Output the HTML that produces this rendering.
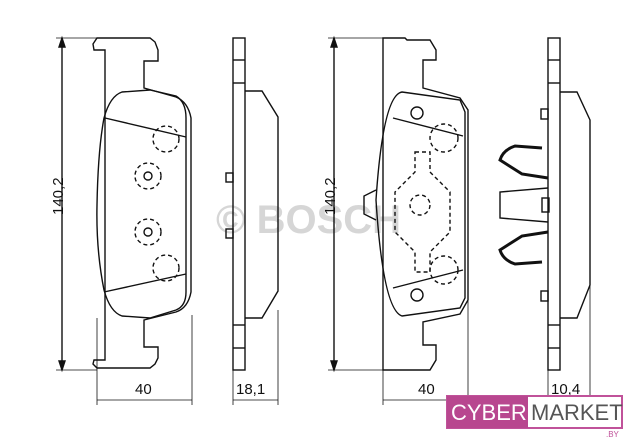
<!DOCTYPE html>
<html><head><meta charset="utf-8"><style>
body{margin:0;background:#fff;width:640px;height:440px;overflow:hidden;font-family:"Liberation Sans",sans-serif}
</style></head><body>
<svg width="640" height="440" viewBox="0 0 640 440" xmlns="http://www.w3.org/2000/svg">
<text x="216" y="233" font-size="40" font-weight="bold" fill="#d6d6d6">© BOSCH</text>
<g fill="none" stroke="#111" stroke-width="1.4">
<!-- left dimension -->
<line x1="62" y1="38" x2="62" y2="370"/><line x1="56" y1="38" x2="97" y2="38" stroke-width="0.8"/><line x1="56" y1="370" x2="97" y2="370" stroke-width="0.8"/>
<path d="M62 38 l-3 9 h6z M62 370 l-3 -9 h6z" fill="#111"/>
<!-- left pad backplate -->
<path d="M105 360 V50 H94 L93 44 L97 38 H150 L155 42 L158 50 V61 H144 V88 L176 97 Q188 102 191 118 V292 Q188 308 176 312 L144 320 V347 H158 V358 L155 364 L150 368 H97 L93 364 L94 360 Z"/>
<!-- friction -->
<path d="M122 92 L150 90 L176 96 Q186 102 186 118 V292 Q186 306 176 310 L150 318 L122 316 Q110 312 104 290 Q96 250 97 205 Q98 150 104 118 Q110 96 122 92 Z"/>
<line x1="105" y1="118" x2="186" y2="137"/><line x1="104" y1="292" x2="186" y2="274"/>
<g stroke-dasharray="4,3"><circle cx="166" cy="139" r="13"/><circle cx="166" cy="268" r="13"/><circle cx="148" cy="176" r="13"/><circle cx="148" cy="232" r="13"/></g>
<circle cx="148" cy="176" r="4"/><circle cx="148" cy="232" r="4"/>
<line x1="97" y1="318" x2="97" y2="405" stroke-width="0.8"/>
<!-- side view 1 -->
<rect x="233" y="38" width="12" height="332"/>
<line x1="233" y1="60" x2="245" y2="60"/><line x1="233" y1="83" x2="245" y2="83"/><line x1="233" y1="325" x2="245" y2="325"/><line x1="233" y1="348" x2="245" y2="348"/>
<path d="M245 91 H262 L278 117 V291 L262 318 H245"/>
<rect x="226" y="173" width="7" height="9"/><rect x="226" y="229" width="7" height="9"/>
<!-- right dimension -->
<line x1="334" y1="38" x2="334" y2="370"/><line x1="328" y1="38" x2="385" y2="38" stroke-width="0.8"/><line x1="328" y1="370" x2="385" y2="370" stroke-width="0.8"/>
<path d="M334 38 l-3 9 h6z M334 370 l-3 -9 h6z" fill="#111"/>
<!-- right pad backplate -->
<path d="M383 370 V38 H405 L407 40 H430 L436 50 V60 H423 V88 L460 98 L468 110 V300 L460 314 L423 322 V345 H436 V360 L430 370 Z"/>
<path d="M402 92 L460 100 L465 112 V298 L460 308 L402 316 Q383 310 376 200 Q383 95 402 92 Z"/>
<line x1="393" y1="118" x2="463" y2="136"/><line x1="393" y1="288" x2="463" y2="270"/>
<circle cx="417" cy="113" r="6"/><circle cx="417" cy="295" r="6"/>
<g stroke-dasharray="4,3"><circle cx="444" cy="138" r="14"/><circle cx="444" cy="270" r="14"/>
<path d="M415 152 h15 v20 l20 20 v40 l-20 20 v20 h-15 v-20 l-20 -20 v-40 l20 -20 z"/>
<circle cx="420" cy="205" r="10"/></g>
<path d="M376 190 L364 196 V214 L376 220"/>
<!-- side view 2 -->
<rect x="548" y="38" width="12" height="332"/>
<line x1="548" y1="60" x2="560" y2="60"/><line x1="548" y1="83" x2="560" y2="83"/><line x1="548" y1="325" x2="560" y2="325"/><line x1="548" y1="348" x2="560" y2="348"/>
<path d="M560 92 H577 L590 120 V285 L577 318 H560"/>
<rect x="541" y="109" width="7" height="10"/><rect x="541" y="291" width="7" height="10"/>
<!-- clip -->
<path d="M542 148 L515 146 Q503 150 500 160 L522 174 L548 178" stroke-width="3"/>
<path d="M542 262 L515 264 Q503 260 500 250 L522 236 L548 232" stroke-width="3"/>
<path d="M548 188 L500 192 V218 L548 222"/>
<rect x="542" y="198" width="7" height="14"/>
<!-- bottom dims -->
<g stroke-width="0.8"><line x1="192" y1="315" x2="192" y2="405"/><line x1="97" y1="400" x2="192" y2="400"/>
<line x1="233" y1="370" x2="233" y2="405"/><line x1="278" y1="310" x2="278" y2="405"/><line x1="233" y1="400" x2="278" y2="400"/>
<line x1="383" y1="370" x2="383" y2="405"/><line x1="468" y1="300" x2="468" y2="405"/><line x1="383" y1="400" x2="468" y2="400"/>
<line x1="548" y1="370" x2="548" y2="400"/><line x1="590" y1="285" x2="590" y2="400"/></g>
</g>
<g font-size="15" fill="#111">
<text x="48" y="230" transform="rotate(-90 48 215)">140,2</text>
<text x="320" y="230" transform="rotate(-90 320 215)">140,2</text>
<text x="135" y="394">40</text><text x="236" y="394">18,1</text><text x="418" y="394">40</text><text x="551" y="394">10,4</text>
</g>
<rect x="447" y="396" width="175" height="32" fill="#fff" stroke="#c0529a" stroke-width="2"/>
<rect x="447" y="396" width="81" height="32" fill="#b8478f"/>
<text x="451" y="420" font-size="22" fill="#fff">CYBER</text>
<text x="531" y="420" font-size="22" fill="#555">MARKET</text>
<text x="606" y="437" font-size="8" fill="#c0529a">.BY</text>
</svg>
</body></html>
